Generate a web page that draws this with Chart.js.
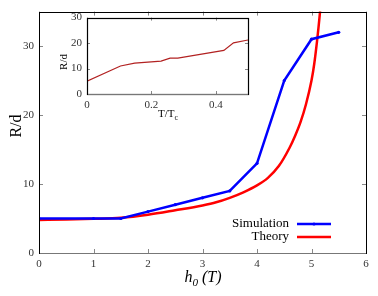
<!DOCTYPE html>
<html>
<head>
<meta charset="utf-8">
<script src="https://cdn.jsdelivr.net/npm/chart.js@4"></script>
<style>
  body { margin: 0; background: #fff; }
  #wrap { position: relative; width: 378px; height: 296px; }
  #main { position: absolute; left: 0; top: 0; }
  #inset { position: absolute; left: 50px; top: 6px; }
</style>
</head>
<body>
<div id="wrap">
  <canvas id="main" width="378" height="296"></canvas>
  <canvas id="inset" width="205" height="118"></canvas>
</div>
<script>
// main plot data
const simH = [0, 1, 1.5, 2, 2.5, 3, 3.5, 4, 4.5, 5, 5.5];
const simR = [5, 5, 5, 6, 7, 8, 9, 13, 25, 31, 32];
const theoryH = [0, 0.5, 1, 1.5, 2, 2.5, 3, 3.25, 3.5, 3.75, 4, 4.2, 4.4, 4.6, 4.7, 4.8, 4.9, 5.0, 5.05, 5.1, 5.15, 5.2];
const theoryR = [4.8, 4.85, 4.95, 5.1, 5.55, 6.2, 6.9, 7.35, 8.0, 8.8, 9.8, 10.9, 12.6, 15.3, 17.0, 19.0, 21.6, 25.0, 27.4, 30.6, 34.4, 39];
const xTicks = [0, 1, 2, 3, 4, 5, 6];
const yTicks = [0, 10, 20, 30];

// inset data
const insetT = [0, 0.104, 0.148, 0.23, 0.258, 0.282, 0.425, 0.455, 0.5];
const insetR = [5.0, 11.0, 12.1, 12.9, 14.1, 14.1, 17.1, 20.1, 21.2];
const insetXTicks = [0, 0.2, 0.4];
const insetYTicks = [0, 10, 20, 30];

const serif = '"Liberation Serif", "DejaVu Serif", serif';
const toPts = (xs, ys) => xs.map((x, i) => ({ x: x, y: ys[i] }));

// draws a string made of parts, some of them subscripts
function drawParts(ctx, parts, x, y, size, italic) {
  const style = italic ? 'italic ' : '';
  let total = 0;
  parts.forEach(p => {
    ctx.font = style + (p.sub ? size * 0.7 : size) + 'px ' + serif;
    total += ctx.measureText(p.t).width;
  });
  let cx = x - total / 2;
  ctx.textAlign = 'left';
  ctx.textBaseline = 'alphabetic';
  parts.forEach(p => {
    ctx.font = style + (p.sub ? size * 0.7 : size) + 'px ' + serif;
    ctx.fillText(p.t, cx, p.sub ? y + size * 0.25 : y);
    cx += ctx.measureText(p.t).width;
  });
}

// frame with inward ticks on all four sides
const frame = {
  id: 'frame',
  afterDraw(chart, args, opts) {
    const { ctx, chartArea: a, scales: { x, y } } = chart;
    ctx.save();
    ctx.strokeStyle = '#888';
    ctx.lineWidth = 1;
    ctx.beginPath();
    opts.xt.forEach(v => {
      const px = Math.round(x.getPixelForValue(v)) + 0.5;
      ctx.moveTo(px, a.bottom); ctx.lineTo(px, a.bottom - opts.len);
      ctx.moveTo(px, a.top); ctx.lineTo(px, a.top + opts.len);
    });
    opts.yt.forEach(v => {
      const py = Math.round(y.getPixelForValue(v)) + 0.5;
      ctx.moveTo(a.left, py); ctx.lineTo(a.left + opts.len, py);
      ctx.moveTo(a.right, py); ctx.lineTo(a.right - opts.len, py);
    });
    ctx.stroke();
    ctx.strokeStyle = '#000';
    ctx.lineWidth = opts.lw;
    ctx.strokeRect(Math.round(a.left) + 0.5, Math.round(a.top) + 0.5,
      Math.round(a.right - a.left), Math.round(a.bottom - a.top));
    // bottom axis is drawn grey in the original
    ctx.strokeStyle = '#777';
    ctx.beginPath();
    ctx.moveTo(Math.round(a.left) + 1, Math.round(a.bottom) + 0.5);
    ctx.lineTo(Math.round(a.right), Math.round(a.bottom) + 0.5);
    ctx.stroke();
    ctx.restore();
  }
};

// axis titles and legend for the main plot
const mainText = {
  id: 'mainText',
  afterDraw(chart) {
    const ctx = chart.ctx;
    ctx.save();
    ctx.fillStyle = '#000';
    drawParts(ctx, [{ t: 'h' }, { t: '0', sub: true }, { t: ' (T)' }], 203, 282, 16, true);
    ctx.translate(16, 126);
    ctx.rotate(-Math.PI / 2);
    drawParts(ctx, [{ t: 'R/d' }], 0, 5, 16, false);
    ctx.setTransform(1, 0, 0, 1, 0, 0);

    // legend
    ctx.font = '13px ' + serif;
    ctx.textAlign = 'right';
    ctx.textBaseline = 'middle';
    ctx.fillText('Simulation', 289, 224);
    ctx.fillText('Theory', 289, 237);
    ctx.lineWidth = 2.5;
    ctx.strokeStyle = '#0000ff';
    ctx.beginPath(); ctx.moveTo(297, 224); ctx.lineTo(331, 224); ctx.stroke();
    ctx.fillStyle = '#0000ff';
    ctx.beginPath(); ctx.arc(314, 224, 1.6, 0, Math.PI * 2); ctx.fill();
    ctx.strokeStyle = '#ff0000';
    ctx.beginPath(); ctx.moveTo(297, 237); ctx.lineTo(331, 237); ctx.stroke();
    ctx.restore();
  }
};

const insetText = {
  id: 'insetText',
  afterDraw(chart) {
    const ctx = chart.ctx;
    ctx.save();
    ctx.fillStyle = '#000';
    drawParts(ctx, [{ t: 'T/T' }, { t: 'c', sub: true }], 118, 111, 11, false);
    ctx.translate(13, 56);
    ctx.rotate(-Math.PI / 2);
    drawParts(ctx, [{ t: 'R/d' }], 0, 4, 11, false);
    ctx.restore();
  }
};

function axis(min, max, ticks, size, fit) {
  return {
    type: 'linear',
    min: min,
    max: max,
    grid: { display: false, drawTicks: false },
    border: { display: false },
    afterBuildTicks: s => { s.ticks = ticks.map(v => ({ value: v })); },
    afterFit: fit,
    ticks: {
      padding: 5,
      color: '#333',
      font: { family: serif, size: size },
      maxRotation: 0,
      autoSkip: false
    }
  };
}

new Chart(document.getElementById('main'), {
  type: 'line',
  data: {
    datasets: [
      {
        label: 'Simulation',
        data: toPts(simH, simR),
        borderColor: '#0000ff',
        backgroundColor: '#0000ff',
        borderWidth: 2.5,
        pointRadius: 1.6,
        pointBorderWidth: 0,
        pointHoverRadius: 1.6,
        order: 1
      },
      {
        label: 'Theory',
        data: toPts(theoryH, theoryR),
        borderColor: '#ff0000',
        borderWidth: 2.5,
        pointRadius: 0,
        cubicInterpolationMode: 'monotone',
        order: 2
      }
    ]
  },
  options: {
    responsive: false,
    animation: false,
    devicePixelRatio: 1,
    layout: { padding: { left: 0, right: 12, top: 2, bottom: 0 } },
    plugins: {
      legend: { display: false },
      tooltip: { enabled: false },
      frame: { xt: xTicks, yt: yTicks, len: 4, lw: 1 }
    },
    scales: {
      x: axis(0, 6, xTicks, 11, s => { s.height = 43; }),
      y: axis(0, 35, yTicks, 11, s => { s.width = 39; })
    }
  },
  plugins: [frame, mainText]
});

new Chart(document.getElementById('inset'), {
  type: 'line',
  data: {
    datasets: [{
      data: toPts(insetT, insetR),
      borderColor: '#b22222',
      borderWidth: 1.2,
      pointRadius: 0,
      tension: 0
    }]
  },
  options: {
    responsive: false,
    animation: false,
    devicePixelRatio: 1,
    layout: { padding: { left: 0, right: 7, top: 11, bottom: 0 } },
    plugins: {
      legend: { display: false },
      tooltip: { enabled: false },
      frame: { xt: insetXTicks, yt: insetYTicks, len: 3, lw: 1.2 }
    },
    scales: {
      x: axis(0, 0.5, insetXTicks, 11, s => { s.height = 30; }),
      y: axis(0, 30, insetYTicks, 11, s => { s.width = 37; })
    }
  },
  plugins: [frame, insetText]
});
</script>
</body>
</html>
